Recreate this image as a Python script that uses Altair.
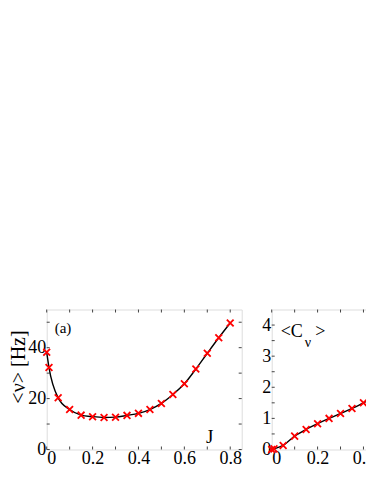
import altair as alt
import pandas as pd

# ---- data ----
J_A = [0.0, 0.01, 0.05, 0.1, 0.15, 0.2, 0.25, 0.3, 0.35, 0.4, 0.45, 0.5, 0.55, 0.6, 0.65, 0.7, 0.75, 0.8]
NU = [38.2, 32.2, 20.3, 15.7, 13.5, 12.9, 12.6, 12.7, 13.4, 14.2, 15.7, 18.1, 21.6, 25.8, 31.6, 37.8, 43.9, 49.7]

J_B = [0.0, 0.01, 0.05, 0.1, 0.15, 0.2, 0.25, 0.3, 0.35, 0.4, 0.45]
CV = [0.0, 0.02, 0.13, 0.43, 0.645, 0.83, 1.0, 1.16, 1.32, 1.5, 1.72]

X_TICKS_A = [0.0, 0.1, 0.2, 0.3, 0.4, 0.5, 0.6, 0.7, 0.8]
X_LABELS_A = [0.0, 0.2, 0.4, 0.6, 0.8]
X_TICKS_B = [0.0, 0.1, 0.2, 0.3, 0.4, 0.5]
X_LABELS_B = [0.0, 0.2, 0.4]
Y_TICKS_A = [0, 10, 20, 30, 40, 50]
Y_LABELS_A = [0, 20, 40]
Y_TICKS_B = [0.0, 0.5, 1.0, 1.5, 2.0, 2.5, 3.0, 3.5, 4.0]
Y_LABELS_B = [0, 1, 2, 3, 4]

WA, WB, H = 195, 120, 140
XMAX_A = 0.85
XMAX_B = 0.85 * WB / WA
TL = 3
FONT = "Liberation Serif"
FRAME = "#444444"
XPATH = "M-1,-1L1,1M-1,1L1,-1"
PLOT_LEFT = 38.7   # inside the svg
PLOT_TOP = 301.5
SVG_W, SVG_H = 358, 468


def panel(j, vals, W, xmax, xticks, xlabels, ydom, yticks, ylabels, ytitle, texts):
    df = pd.DataFrame({"J": j, "v": vals})
    x_enc = alt.X(
        "J:Q",
        scale=alt.Scale(domain=[0, xmax], nice=False, zero=False),
        axis=alt.Axis(values=xlabels, format=".1~f", ticks=False, domain=False, grid=False,
                      labelFont=FONT, labelFontSize=18, labelColor="black",
                      labelPadding=0, title=None),
    )
    yax = dict(values=ylabels, format="d", ticks=False, domain=False, grid=False,
               labelFont=FONT, labelFontSize=18, labelColor="black", labelPadding=1)
    if ytitle:
        yax.update(title=ytitle, titleFont=FONT, titleFontSize=20, titleFontWeight="normal",
                   titleColor="black", titleAngle=270, titleX=-28.5, titleY=57,
                   titleAlign="center", titleBaseline="middle")
    else:
        yax.update(title=None)
    y_enc = alt.Y("v:Q", scale=alt.Scale(domain=ydom, nice=False, zero=False), axis=alt.Axis(**yax))

    base = alt.Chart(df)
    line = base.mark_line(color="black", strokeWidth=1.4, interpolate="monotone").encode(x=x_enc, y=y_enc)
    pts = base.mark_point(shape=XPATH, size=46, filled=False, color="#ff0000",
                          strokeWidth=1.8, opacity=1).encode(x=x_enc, y=y_enc)

    xt = alt.Chart(pd.DataFrame({"J": xticks}))
    yt = alt.Chart(pd.DataFrame({"v": yticks}))
    tick_style = dict(color=FRAME, strokeWidth=1)
    layers = [
        xt.mark_rule(**tick_style).encode(x=x_enc, y=alt.value(H), y2=alt.value(H - TL)),
        xt.mark_rule(**tick_style).encode(x=x_enc, y=alt.value(0), y2=alt.value(TL)),
        yt.mark_rule(**tick_style).encode(y=y_enc, x=alt.value(0), x2=alt.value(TL)),
        yt.mark_rule(**tick_style).encode(y=y_enc, x=alt.value(W), x2=alt.value(W - TL)),
        line,
        pts,
    ]
    one = pd.DataFrame({"k": [0]})
    for (txt, x, y, size, align, baseline) in texts:
        layers.append(
            alt.Chart(one).mark_text(text=txt, font=FONT, fontSize=size, color="black",
                                     align=align, baseline=baseline)
            .encode(x=alt.value(x), y=alt.value(y))
        )
    return alt.layer(*layers).properties(width=W, height=H)


pa = panel(J_A, NU, WA, XMAX_A, X_TICKS_A, X_LABELS_A, [0, 55], Y_TICKS_A, Y_LABELS_A, "<ν> [Hz]",
           [("(a)", 8, 18, 15, "left", "middle"),
            ("J", 163, 127, 19, "center", "middle")])
pb = panel(J_B, CV, WB, XMAX_B, X_TICKS_B, X_LABELS_B, [0, 4.5], Y_TICKS_B, Y_LABELS_B, None,
           [("<C", 9, 27, 18, "left", "alphabetic"),
            ("ν", 33, 37, 14, "left", "alphabetic"),
            (">", 43.5, 27, 18, "left", "alphabetic")])

chart = (
    alt.hconcat(pa, pb, spacing=30, bounds="flush")
    .properties(
        autosize=alt.AutoSizeParams(type="none"),
        padding={"top": PLOT_TOP, "left": PLOT_LEFT,
                 "right": SVG_W - PLOT_LEFT, "bottom": SVG_H - PLOT_TOP},
    )
    .configure_view(stroke=FRAME, strokeWidth=1)
    .configure(background="white")
)

chart.save("out.html", embed_options={"renderer": "svg", "actions": False})
